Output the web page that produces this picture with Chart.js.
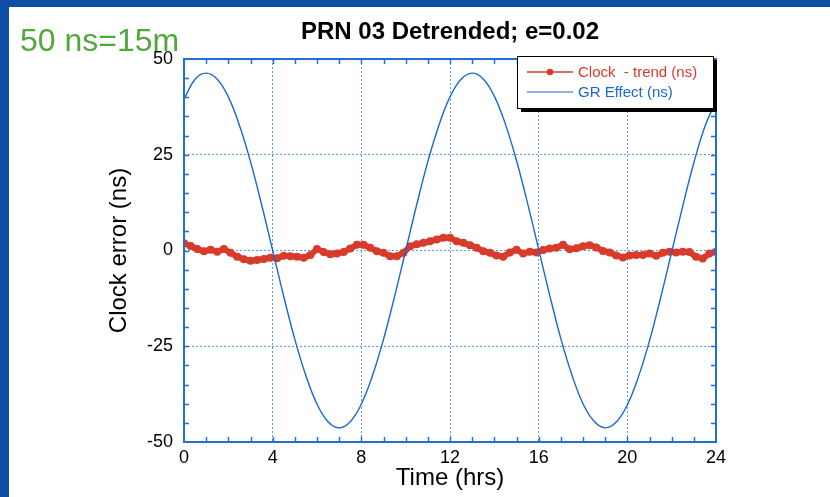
<!DOCTYPE html>
<html>
<head>
<meta charset="utf-8">
<script src="https://cdn.jsdelivr.net/npm/chart.js@4"></script>
<style>
  body { margin: 0; }
  #frame {
    position: absolute; left: 0; top: 0; width: 830px; height: 497px;
    box-sizing: border-box; background: #fff;
    border-left: 9px solid #0b4ea3; border-top: 7px solid #0b4ea3;
  }
  #chart { position: absolute; left: 0; top: 0; }
  #note {
    position: absolute; left: 20px; top: 24px;
    font: 32px "Liberation Sans", Arial, sans-serif; line-height: 32px;
    color: #52a83c; white-space: nowrap;
  }
</style>
</head>
<body>
<div id="frame"></div>
<canvas id="chart" width="830" height="497"></canvas>
<div id="note">50 ns=15m</div>
<script>
// GR effect, read every 0.5 h
const grHours = [0, 0.5, 1, 1.5, 2, 2.5, 3, 3.5, 4, 4.5, 5, 5.5, 6, 6.5, 7, 7.5, 8, 8.5, 9, 9.5, 10, 10.5, 11, 11.5,
  12, 12.5, 13, 13.5, 14, 14.5, 15, 15.5, 16, 16.5, 17, 17.5, 18, 18.5, 19, 19.5, 20, 20.5, 21, 21.5, 22, 22.5, 23, 23.5, 24];
const grValues = [39.5, 44.7, 46.3, 44.7, 40.1, 32.7, 23.2, 12.0, 0, -12.0, -23.2, -32.7, -40.1, -44.7, -46.3, -44.7,
  -40.1, -32.7, -23.2, -12.0, 0, 12.0, 23.2, 32.7, 40.1, 44.7, 46.3, 44.8, 40.3, 33.0, 23.5, 12.3, 0.3, -11.7, -23.0,
  -32.5, -40.0, -44.6, -46.3, -44.8, -40.3, -33.0, -23.6, -12.4, -0.4, 11.6, 22.9, 32.4, 39.0];

// clock - trend, read every 0.3 h
const clockHours = [0, 0.3, 0.6, 0.9, 1.2, 1.5, 1.8, 2.1, 2.4, 2.7, 3, 3.3, 3.6, 3.9, 4.2, 4.5, 4.8, 5.1, 5.4, 5.7,
  6, 6.3, 6.6, 6.9, 7.2, 7.5, 7.8, 8.1, 8.4, 8.7, 9, 9.3, 9.6, 9.9, 10.2, 10.5, 10.8, 11.1, 11.4, 11.7,
  12, 12.3, 12.6, 12.9, 13.2, 13.5, 13.8, 14.1, 14.4, 14.7, 15, 15.3, 15.6, 15.9, 16.2, 16.5, 16.8, 17.1, 17.4, 17.7,
  18, 18.3, 18.6, 18.9, 19.2, 19.5, 19.8, 20.1, 20.4, 20.7, 21, 21.3, 21.6, 21.9, 22.2, 22.5, 22.8, 23.1, 23.4, 23.7, 24];
const clockValues = [1.9, 1.2, 0.4, -0.2, 0.2, -0.3, 0.4, -0.6, -1.6, -2.3, -2.7, -2.5, -2.2, -1.9, -2.0, -1.4, -1.5, -1.6, -1.9, -1.2,
  0.4, -0.4, -1.0, -0.8, -0.4, 0.5, 1.5, 1.5, 0.7, -0.2, -0.6, -1.5, -1.5, -0.6, 1.1, 1.6, 2.0, 2.4, 2.9, 3.3,
  3.3, 2.4, 2.0, 1.4, 0.7, -0.2, -0.6, -1.3, -1.6, -0.5, 0.2, -0.8, -0.3, -0.5, 0.1, 0.5, 0.7, 1.5, 0.3, 0.6,
  1.1, 1.4, 0.8, -0.1, -0.5, -1.3, -1.8, -1.3, -1.2, -1.2, -0.8, -1.4, -0.6, -0.3, -0.5, -0.3, -0.4, -1.6, -2.1, -0.8, -0.3];

const chartTitle = "PRN 03 Detrended; e=0.02";
const seriesNames = ["Clock  - trend (ns)", "GR Effect (ns)"];
const xTicks = [0, 4, 8, 12, 16, 20, 24];
const yTicks = [-50, -25, 0, 25, 50];

const red = "#d93b2b";
const blue = "#1a68d4";
const axisBlue = "#1f6fd6";
const gridBlue = "#5b9be6";
const fontFamily = '"Liberation Sans", Arial, Helvetica, sans-serif';

Chart.defaults.font.family = fontFamily;
Chart.defaults.color = "#000";

// title over the plot, minor ticks, frame and the boxed legend
const framePlugin = {
  id: "framePlugin",
  afterDraw(chart) {
    const { ctx, chartArea: a, scales: { x, y } } = chart;
    ctx.save();

    ctx.fillStyle = "#000";
    ctx.font = "bold 24px " + fontFamily;
    ctx.textAlign = "center";
    ctx.textBaseline = "middle";
    ctx.fillText(chartTitle, (a.left + a.right) / 2, 32);
    ctx.textAlign = "left";

    ctx.strokeStyle = axisBlue;
    ctx.lineWidth = 1.5;
    ctx.beginPath();
    for (let h = x.min + 1; h < x.max; h++) {
      const px = Math.round(x.getPixelForValue(h)) + 0.5;
      ctx.moveTo(px, a.bottom); ctx.lineTo(px, a.bottom - 5);
      ctx.moveTo(px, a.top); ctx.lineTo(px, a.top + 5);
    }
    for (let v = y.min + 5; v < y.max; v += 5) {
      const py = Math.round(y.getPixelForValue(v)) + 0.5;
      ctx.moveTo(a.left, py); ctx.lineTo(a.left + 5, py);
      ctx.moveTo(a.right, py); ctx.lineTo(a.right - 5, py);
    }
    ctx.stroke();
    ctx.lineWidth = 2;
    ctx.strokeRect(a.left, a.top, a.right - a.left, a.bottom - a.top);

    // legend box with drop shadow
    const bx = a.right - 199, by = a.top - 3, bw = 196, bh = 52;
    ctx.fillStyle = "#000";
    ctx.fillRect(bx + 4, by + 4, bw, bh);
    ctx.fillStyle = "#fff";
    ctx.fillRect(bx, by, bw, bh);
    ctx.lineWidth = 1;
    ctx.strokeStyle = "#000";
    ctx.strokeRect(bx + 0.5, by + 0.5, bw, bh);

    const rows = [
      { text: seriesNames[0], color: red, dot: true, yy: by + 16 },
      { text: seriesNames[1], color: blue, dot: false, yy: by + 36 },
    ];
    ctx.font = "15px " + fontFamily;
    ctx.textBaseline = "middle";
    rows.forEach((r) => {
      ctx.strokeStyle = r.color;
      ctx.lineWidth = r.dot ? 1.5 : 1.2;
      ctx.beginPath();
      ctx.moveTo(bx + 10, r.yy); ctx.lineTo(bx + 56, r.yy);
      ctx.stroke();
      if (r.dot) {
        ctx.fillStyle = r.color;
        ctx.beginPath(); ctx.arc(bx + 33, r.yy, 3.2, 0, Math.PI * 2); ctx.fill();
      }
      ctx.fillStyle = r.color;
      ctx.fillText(r.text, bx + 61, r.yy + 1);
    });
    ctx.restore();
  },
};

new Chart(document.getElementById("chart").getContext("2d"), {
  type: "line",
  data: {
    datasets: [
      {
        label: seriesNames[1],
        data: grHours.map((h, i) => ({ x: h, y: grValues[i] })),
        borderColor: blue,
        borderWidth: 1.4,
        pointRadius: 0,
        tension: 0.4,
      },
      {
        label: seriesNames[0],
        data: clockHours.map((h, i) => ({ x: h, y: clockValues[i] })),
        borderColor: red,
        backgroundColor: red,
        borderWidth: 6,
        pointRadius: 4,
        pointBorderWidth: 0,
        tension: 0,
      },
    ],
  },
  options: {
    responsive: false,
    animation: false,
    devicePixelRatio: 1,
    layout: { padding: { left: 0, right: 114, top: 59, bottom: 0 } },
    plugins: {
      legend: { display: false },
      tooltip: { enabled: false },
      title: { display: false },
    },
    scales: {
      x: {
        type: "linear",
        min: 0,
        max: 24,
        afterFit: (s) => { s.height = 55; },
        afterBuildTicks: (s) => { s.ticks = xTicks.map((v) => ({ value: v })); },
        ticks: { font: { size: 18 }, padding: 5, maxRotation: 0 },
        grid: { color: gridBlue, lineWidth: 1, drawTicks: false },
        border: { display: false, dash: [2, 2] },
        title: { display: true, text: "Time (hrs)", font: { size: 24 }, padding: { bottom: 4 } },
      },
      y: {
        min: -50,
        max: 50,
        afterFit: (s) => { s.width = 184; },
        afterBuildTicks: (s) => { s.ticks = yTicks.map((v) => ({ value: v })); },
        ticks: { font: { size: 18 }, padding: 11 },
        grid: { color: gridBlue, lineWidth: 1, drawTicks: false },
        border: { display: false, dash: [2, 2] },
        title: { display: true, text: "Clock error (ns)", font: { size: 24 }, padding: { top: 105 } },
      },
    },
  },
  plugins: [framePlugin],
});
</script>
</body>
</html>
